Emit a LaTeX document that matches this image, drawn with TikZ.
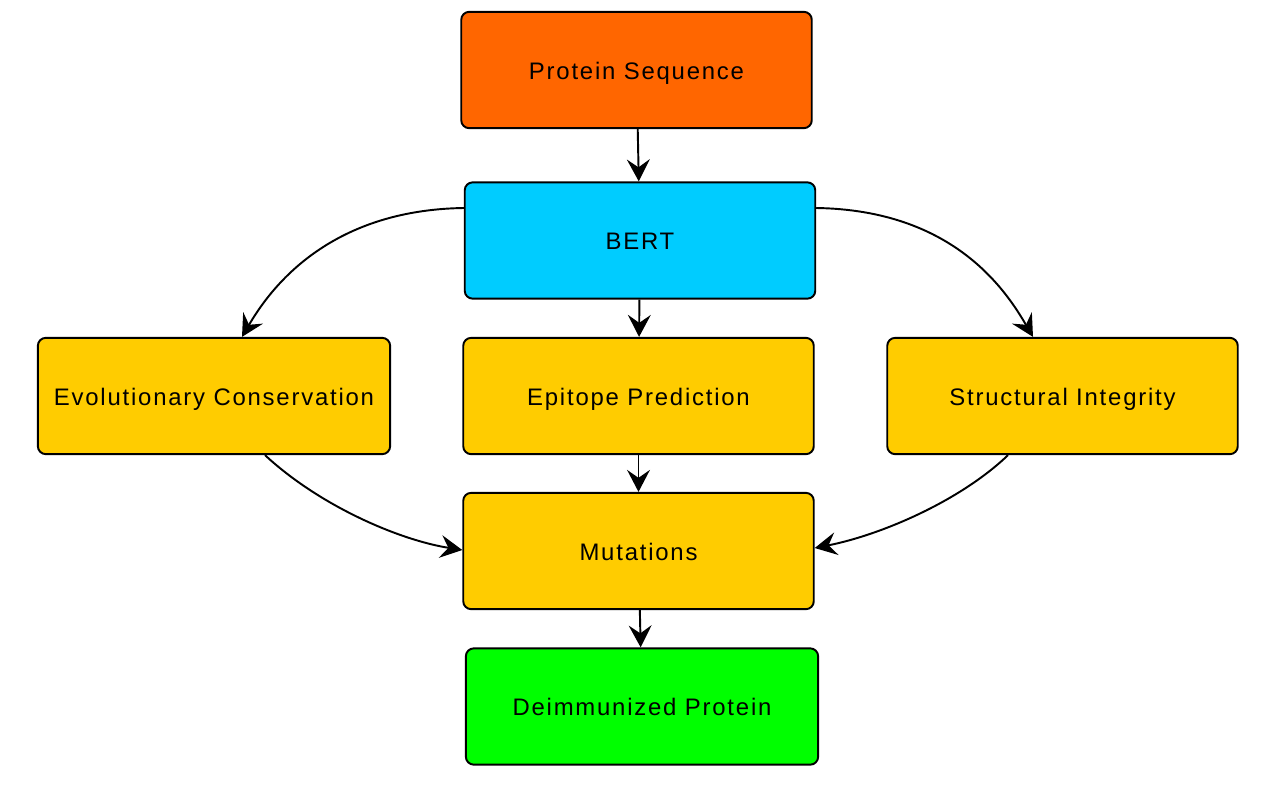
\documentclass[tikz,border=0pt]{standalone}
\usepackage{fontspec}
\setmainfont{Liberation Sans}[LetterSpace=7.5]
\usetikzlibrary{arrows.meta,calc}
\definecolor{cOrange}{HTML}{FF6600}
\definecolor{cCyan}{HTML}{00CCFF}
\definecolor{cYellow}{HTML}{FFCC00}
\definecolor{cGreen}{HTML}{00FF00}
\begin{document}
\begin{tikzpicture}[x=0.02cm,y=-0.02cm,
  box/.style={draw=black,line width=1.1pt,rounded corners=4.5pt,minimum width=199.5pt,minimum height=66.2pt,inner sep=0pt,text depth=0pt,font=\fontsize{13.6}{16}\selectfont,text=black},
  lbl/.style={yshift=-1pt},
  arr/.style={draw=black,line width=1.1pt,-{Stealth[length=12.5pt,width=13pt,inset=4.5pt]}}]
\useasboundingbox[fill=white] (0,0) rectangle (1280,785);
\node[box,fill=cOrange] (ps) at (636.5,70) {\raisebox{-1pt}{Protein Sequence}};
\node[box,fill=cCyan] (bert) at (640,240.5) {\raisebox{-1pt}{BERT}};
\node[box,fill=cYellow,minimum width=200.5pt] (evo) at (214,396) {\raisebox{-0.5pt}{Evolutionary Conservation}};
\node[box,fill=cYellow] (epi) at (638.5,396) {\raisebox{-0.5pt}{Epitope Prediction}};
\node[box,fill=cYellow] (str) at (1062.5,396) {\raisebox{-0.5pt}{Structural Integrity}};
\node[box,fill=cYellow] (mut) at (638.5,551) {\raisebox{-0.5pt}{Mutations}};
\node[box,fill=cGreen,minimum width=200.5pt] (dp) at (642,706.5) {\raisebox{-0.5pt}{Deimmunized Protein}};
\draw[arr] (ps) -- (bert);
\draw[arr] (bert) -- (epi);
\draw[arr] (epi) -- (mut);
\draw[arr] (mut) -- (dp);
\draw[arr] ($(bert.west)+(0,-32.5)$) .. controls +(-136,2) and +(28,-48) .. ($(evo.north)+(28,0)$);
\draw[arr] ($(bert.east)+(0,-32.5)$) .. controls +(136,2) and +(-28,-48) .. ($(str.north)+(-29.5,0)$);
\draw[arr] ($(evo.south)+(51,0)$) .. controls +(55,51) and +(-63,-10) .. ($(mut.west)+(0,-1)$);
\draw[arr] ($(str.south)+(-54.5,0)$) .. controls +(-48,46) and +(66,-13) .. ($(mut.east)+(0,-3)$);
\end{tikzpicture}
\end{document}
